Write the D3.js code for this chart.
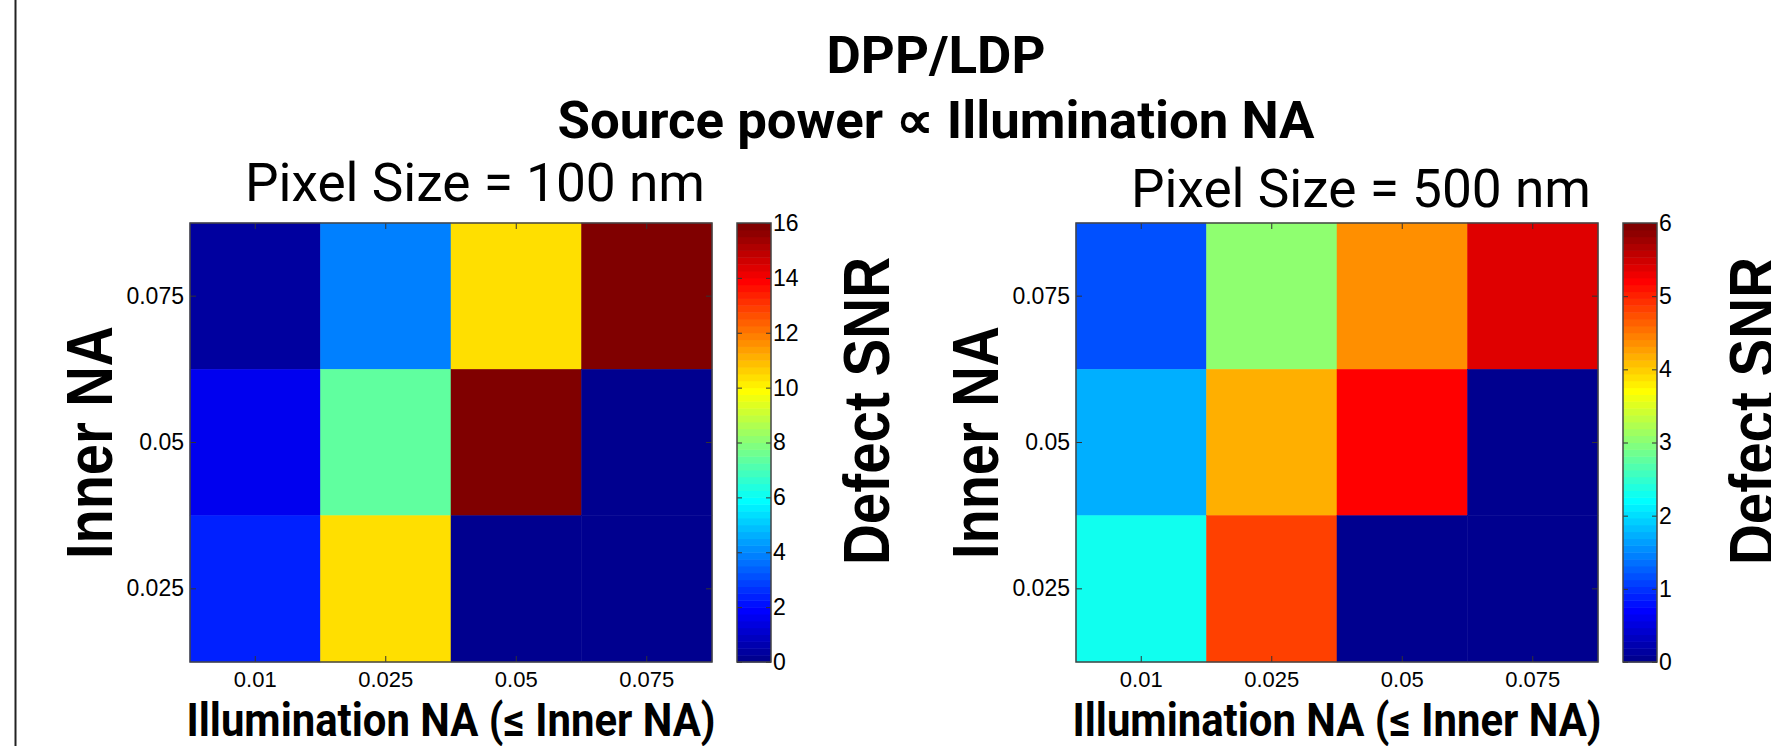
<!doctype html>
<html lang="en">
<head>
    <meta charset="UTF-8">
    <title>DPP/LDP defect SNR</title>
    <script type="text/javascript" src="https://cdn.jsdelivr.net/npm/d3@7"></script>
    <style type="text/css">
        body { margin: 0; background: #fff; }
        svg { display: block; background: #fff; }
        .tick text { font-family: "Liberation Sans", Arial, sans-serif; fill: #000; }
        .tick line { stroke: #333; }
    </style>
</head>
<body>
<script type="text/javascript">

    // ---- data ----
    var illumNA = ["0.01", "0.025", "0.05", "0.075"];
    var innerNA = ["0.075", "0.05", "0.025"];          // top row first

    // rows follow innerNA, columns follow illumNA
    var snr100 = [
        [0.4, 3.9, 10.4, 16],
        [1.6, 7.4, 15.9, 0],
        [2.4, 10.4, 0, 0]
    ];
    var snr500 = [
        [1.15, 3.05, 4.35, 5.4],
        [1.72, 4.17, 5.2, 0],
        [2.3, 4.82, 0, 0]
    ];
    var cbTicks100 = [0, 2, 4, 6, 8, 10, 12, 14, 16];
    var cbTicks500 = [0, 1, 2, 3, 4, 5, 6];

    var titleLines = ["DPP/LDP", "Source power \u221D Illumination NA"];
    var panelTitles = ["Pixel Size = 100 nm", "Pixel Size = 500 nm"];
    var xLabel = "Illumination NA (\u2264 Inner NA)";
    var yLabel = "Inner NA";
    var cbLabel = "Defect SNR";

    // ---- layout ----
    var w = 1771, h = 746;
    var mapW = 522, mapTop = 223, mapBot = 662;
    var cbGap = 25, cbW = 34;

    // MATLAB jet(64)
    var jet64 = (function () {
        var n = 16, u = [];
        for (var j = 1; j <= n; j++) u.push(j / n);
        for (j = 0; j < n - 1; j++) u.push(1);
        for (j = n; j >= 1; j--) u.push(j / n);
        var get = function (i) { return (i >= 1 && i <= u.length) ? u[i - 1] : 0; };
        var out = [];
        for (var k = 1; k <= 64; k++) {
            out.push(d3.rgb(get(k - 24) * 255, get(k - 8) * 255, get(k + 8) * 255).formatHex());
        }
        return out;
    })();

    var svg = d3.select("body").append("svg")
        .attr("width", w)
        .attr("height", h);

    // frame line at the left
    svg.append("line")
        .attr("x1", 15.5).attr("x2", 15.5)
        .attr("y1", 0).attr("y2", h)
        .attr("stroke", "#222").attr("stroke-width", 2);

    // main title
    svg.append("text")
        .attr("x", 936).attr("y", 73)
        .attr("text-anchor", "middle")
        .attr("font-family", "Roboto, sans-serif")
        .attr("font-weight", "bold")
        .attr("font-size", 52)
        .attr("textLength", 219).attr("lengthAdjust", "spacingAndGlyphs")
        .text(titleLines[0]);
    svg.append("text")
        .attr("x", 936).attr("y", 138)
        .attr("text-anchor", "middle")
        .attr("font-family", "Roboto, sans-serif")
        .attr("font-weight", "bold")
        .attr("font-size", 52)
        .attr("textLength", 757).attr("lengthAdjust", "spacingAndGlyphs")
        .text(titleLines[1]);

    var panels = [
        {x0: 190, values: snr100, max: 16, ticks: cbTicks100, title: panelTitles[0], titleY: 201},
        {x0: 1076, values: snr500, max: 6, ticks: cbTicks500, title: panelTitles[1], titleY: 207}
    ];

    panels.forEach(function (p) {
        var g = svg.append("g");

        var xScale = d3.scaleBand().domain(illumNA).range([p.x0, p.x0 + mapW]);
        var yScale = d3.scaleBand().domain(innerNA).range([mapTop, mapBot]);
        var color = function (v) {
            var idx = Math.floor(v / p.max * 64);
            return jet64[Math.max(0, Math.min(63, idx))];
        };

        // cells
        var cells = [];
        p.values.forEach(function (row, i) {
            row.forEach(function (v, j) {
                cells.push({row: innerNA[i], col: illumNA[j], v: v});
            });
        });
        g.selectAll("rect.cell")
            .data(cells)
            .enter()
            .append("rect")
            .attr("class", "cell")
            .attr("x", function (d) { return xScale(d.col); })
            .attr("y", function (d) { return yScale(d.row); })
            .attr("width", xScale.bandwidth())
            .attr("height", yScale.bandwidth())
            .attr("fill", function (d) { return color(d.v); })
            .attr("stroke", function (d) { return color(d.v); })
            .attr("stroke-width", 0.5);

        // axes (ticks point inward, like matlab)
        var xAxis = d3.axisBottom(xScale).tickSize(-6).tickPadding(9);
        var xg = g.append("g").attr("transform", "translate(0," + mapBot + ")").call(xAxis);
        xg.selectAll("text").attr("font-size", 22);
        g.append("g").attr("transform", "translate(0," + mapTop + ")")
            .call(d3.axisTop(xScale).tickSize(-6).tickFormat(""));

        var yAxis = d3.axisLeft(yScale).tickSize(-6).tickPadding(6);
        var yg = g.append("g").attr("transform", "translate(" + p.x0 + ",0)").call(yAxis);
        yg.selectAll("text").attr("font-size", 23);
        g.append("g").attr("transform", "translate(" + (p.x0 + mapW) + ",0)")
            .call(d3.axisRight(yScale).tickSize(-6).tickFormat(""));

        g.selectAll(".domain").remove();

        g.append("rect")
            .attr("x", p.x0).attr("y", mapTop)
            .attr("width", mapW).attr("height", mapBot - mapTop)
            .attr("fill", "none").attr("stroke", "#444").attr("stroke-width", 1.5);

        // colorbar
        var cbX = p.x0 + mapW + cbGap;
        var cScale = d3.scaleLinear().domain([0, p.max]).range([mapBot, mapTop]);
        var steps = d3.range(64);
        g.selectAll("rect.cb")
            .data(steps)
            .enter()
            .append("rect")
            .attr("class", "cb")
            .attr("x", cbX)
            .attr("y", function (k) { return cScale((k + 1) / 64 * p.max); })
            .attr("width", cbW)
            .attr("height", function (k) { return cScale(k / 64 * p.max) - cScale((k + 1) / 64 * p.max) + 0.5; })
            .attr("fill", function (k) { return jet64[k]; });

        var cg = g.append("g").attr("transform", "translate(" + (cbX + cbW) + ",0)")
            .call(d3.axisRight(cScale).tickValues(p.ticks).tickSize(-5).tickPadding(2).tickFormat(d3.format("d")));
        cg.selectAll("text").attr("font-size", 23);
        g.append("g").attr("transform", "translate(" + cbX + ",0)")
            .call(d3.axisLeft(cScale).tickValues(p.ticks).tickSize(-5).tickFormat(""));
        g.selectAll(".domain").remove();

        g.append("rect")
            .attr("x", cbX).attr("y", mapTop)
            .attr("width", cbW).attr("height", mapBot - mapTop)
            .attr("fill", "none").attr("stroke", "#444").attr("stroke-width", 1.5);

        // panel title
        g.append("text")
            .attr("x", p.x0 + 55).attr("y", p.titleY)
            .attr("font-family", "Roboto, sans-serif")
            .attr("font-size", 54)
            .attr("textLength", 460).attr("lengthAdjust", "spacingAndGlyphs")
            .text(p.title);

        // x label
        g.append("text")
            .attr("x", p.x0 + mapW / 2).attr("y", 736)
            .attr("text-anchor", "middle")
            .attr("font-family", "Roboto, sans-serif")
            .attr("font-weight", "bold")
            .attr("font-size", 47)
            .attr("textLength", 529).attr("lengthAdjust", "spacingAndGlyphs")
            .text(xLabel);

        // y label
        g.append("text")
            .attr("transform", "translate(" + (p.x0 - 78) + "," + (mapTop + mapBot) / 2 + ") rotate(-90)")
            .attr("text-anchor", "middle")
            .attr("font-family", "'Liberation Sans', Arial, sans-serif")
            .attr("font-weight", "bold")
            .attr("font-size", 64)
            .attr("textLength", 233).attr("lengthAdjust", "spacingAndGlyphs")
            .text(yLabel);

        // colorbar label
        g.append("text")
            .attr("transform", "translate(" + (cbX + cbW + 118) + ",411) rotate(-90)")
            .attr("text-anchor", "middle")
            .attr("font-family", "'Liberation Sans', Arial, sans-serif")
            .attr("font-weight", "bold")
            .attr("font-size", 64)
            .attr("textLength", 308).attr("lengthAdjust", "spacingAndGlyphs")
            .text(cbLabel);
    });

</script>
</body>
</html>
